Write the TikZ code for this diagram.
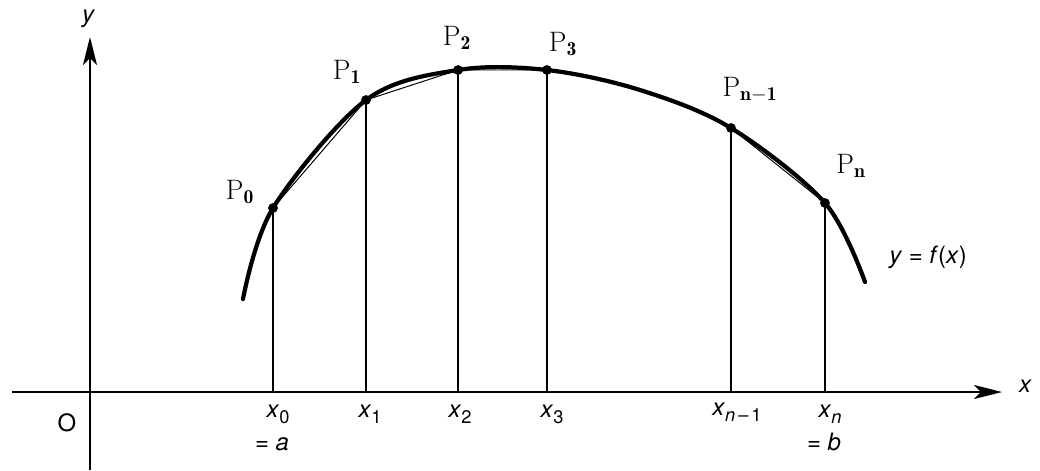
\documentclass[tikz,border=0pt]{standalone}
\usepackage{fontspec}
\usepackage{xcolor}
\usepackage{tikz}
\usetikzlibrary{arrows.meta}
\newfontfamily\axisfont{TeX Gyre Heros}

\tikzset{
  axis/.style={line width=1.4pt, -{Stealth[length=20pt, width=10pt, inset=5pt]}},
  curve/.style={line width=3pt, line cap=round},
  chord/.style={line width=0.7pt},
  ordinate/.style={line width=1pt},
  dot/.style={circle, fill=black, inner sep=0pt, minimum size=7pt},
  plabel/.style={font=\fontsize{20}{22}\selectfont},
  axislabel/.style={font=\axisfont\fontsize{17}{19}\selectfont}
}
\newcommand{\xsub}[1]{\textit{x}\raisebox{-0.5ex}{\fontsize{13}{15}\selectfont #1}}

\begin{document}
\begin{tikzpicture}[x=0.025cm, y=-0.025cm]
    \useasboundingbox (0,0) rectangle (1040,470);

    % axes
    \coordinate (O) at (90,392);
    \coordinate (xstart) at (12,392);
    \coordinate (xend) at (1002,392);
    \coordinate (ystart) at (90,470);
    \coordinate (yend) at (90,37);
    \draw[axis] (xstart) -- (xend);
    \draw[axis] (ystart) -- (yend);
    \node[axislabel, font=\axisfont\itshape\fontsize{17}{19}\selectfont] (xname) at (1025,386) {x};
    \node[axislabel, font=\axisfont\itshape\fontsize{17}{19}\selectfont] (yname) at (88,19) {y};
    \node[axislabel] (origin) at (67,423) {O};

    % points on the curve
    \coordinate (P0) at (273,208);
    \coordinate (P1) at (366,100);
    \coordinate (P2) at (458,70);
    \coordinate (P3) at (547,70);
    \coordinate (Pm) at (731,128);
    \coordinate (Pn) at (825,203);

    \foreach \p in {P0,P1,P2,P3,Pm,Pn}
      \draw[ordinate] (\p) -- (\p |- O);

    \draw[chord] (P0) -- (P1) -- (P2) -- (P3);
    \draw[chord] (Pm) -- (Pn);

    \draw[curve] plot[smooth, tension=0.55] coordinates {(243,299) (P0) (P1) (P2)
      (P3) (640,90) (Pm) (Pn) (865,282)};

    \foreach \p in {P0,P1,P2,P3,Pm,Pn}
      \node[dot] at (\p) {};

    % labels
    \node[plabel] (lP0) at (240,192) {P$_{\mathbf{0}}$};
    \node[plabel] (lP1) at (347,72) {P$_{\mathbf{1}}$};
    \node[plabel] (lP2) at (457,38) {P$_{\mathbf{2}}$};
    \node[plabel] (lP3) at (563,44) {P$_{\mathbf{3}}$};
    \node[plabel] (lPm) at (750,90) {P$_{\mathbf{n-1}}$};
    \node[plabel] (lPn) at (851,166) {P$_{\mathbf{n}}$};
    \node[axislabel] (fname) at (928,257) {\textit{y} = \textit{f}(\textit{x})};

    \node[axislabel] (lx0) at (278,414) {\xsub{0}};
    \node[axislabel] (la) at (272,444) {= \textit{a}};
    \node[axislabel] (lx1) at (370,414) {\xsub{1}};
    \node[axislabel] (lx2) at (460,414) {\xsub{2}};
    \node[axislabel] (lx3) at (552,414) {\xsub{3}};
    \node[axislabel] (lxm) at (737,412) {\xsub{\textit{n}\,\textendash\,1}};
    \node[axislabel] (lxn) at (830,414) {\xsub{\textit{n}}};
    \node[axislabel] (lb) at (824,442) {= \textit{b}};
  \end{tikzpicture}
\end{document}
